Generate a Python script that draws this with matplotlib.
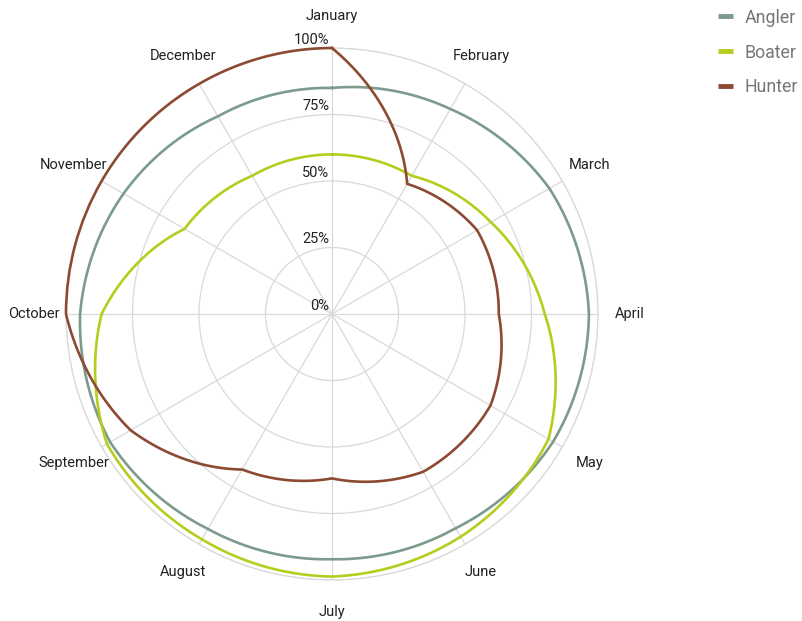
import numpy as np
import matplotlib.pyplot as plt
from matplotlib.lines import Line2D

plt.rcParams['font.family'] = ['Roboto', 'DejaVu Sans']

months = ['January', 'February', 'March', 'April', 'May', 'June',
          'July', 'August', 'September', 'October', 'November', 'December']
angler = [85, 89, 94.4, 96.6, 96, 93, 92.2, 93.3, 96.3, 94.7, 90.5, 85.8]
boater = [60, 60, 69, 80, 94, 96.7, 98.7, 97.8, 97.7, 86.6, 64, 60]
hunter = [100, 56.5, 63, 62.7, 68.8, 68.5, 61.8, 67.5, 87.4, 100, 100, 99.9]
r_ticks = [0, 25, 50, 75, 100]

series = [('Angler', angler, '#7b9b8c'),
          ('Boater', boater, '#b6cc1e'),
          ('Hunter', hunter, '#8c4a33')]

fig = plt.figure(figsize=(8.02, 6.21), dpi=100)
ax = fig.add_axes([0.0823, 0.066, 0.6633, 0.8567], projection='polar')
ax.set_theta_zero_location('N')
ax.set_theta_direction(-1)

theta = np.arange(len(months)) * 2 * np.pi / len(months)
theta_c = np.append(theta, theta[0] + 2 * np.pi)

handles = []
for name, vals, col in series:
    line, = ax.plot(theta_c, vals + vals[:1], color=col, lw=1.9, clip_on=False, zorder=3)
    # draw segments as arcs between points (like the radar chart does)
    line.get_path()._interpolation_steps = 60
    handles.append(Line2D([], [], color=col, lw=3.5, solid_capstyle='butt', label=name))

ax.set_ylim(0, 100)
ax.set_yticks(r_ticks[1:])
ax.set_yticklabels([])
ax.set_xticks(theta)
ax.set_xticklabels([])
ax.grid(color='#d9d9d9', lw=0.9)
ax.spines['polar'].set_color('#d9d9d9')
ax.spines['polar'].set_linewidth(0.9)

for t, m in zip(theta, months):
    ax.text(t, 112, m, ha='center', va='center', fontsize=10.5,
            color='#222222', clip_on=False)

for v in r_ticks:
    ax.annotate(f'{v}%', xy=(0, v), xytext=(-2, 1), textcoords='offset points',
                ha='right', va='bottom', fontsize=10.5, color='#222222')

fig.legend(handles=handles, loc='upper left', bbox_to_anchor=(0.8953, 0.986),
           frameon=False, borderpad=0, borderaxespad=0,
           handlelength=0.84, handletextpad=0.67,
           labelspacing=0.95, fontsize=12.8, labelcolor='#777777')

fig.savefig('out.png', dpi=100)
